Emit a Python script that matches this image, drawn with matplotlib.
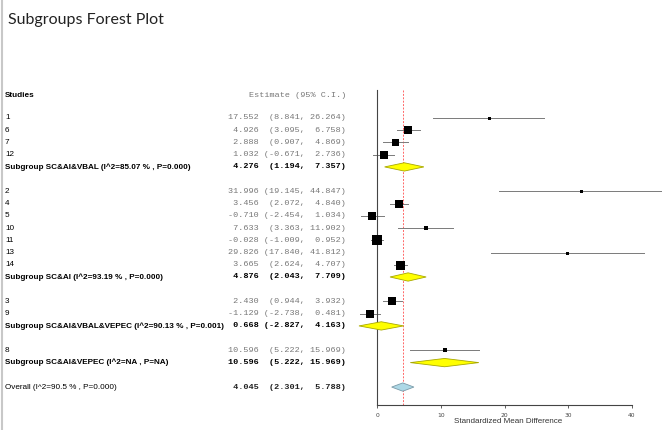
import matplotlib
matplotlib.use("Agg")
import matplotlib.pyplot as plt
from matplotlib.patches import Polygon
from matplotlib.lines import Line2D
import matplotlib.transforms as mtransforms

# study level data, one list per subgroup
group_names = ["SC&AI&VBAL", "SC&AI", "SC&AI&VBAL&VEPEC", "SC&AI&VEPEC"]
study_ids = [["1", "6", "7", "12"],
             ["2", "4", "5", "10", "11", "13", "14"],
             ["3", "9"],
             ["8"]]
study_est = [[17.552, 4.926, 2.888, 1.032],
             [31.996, 3.456, -0.710, 7.633, -0.028, 29.826, 3.665],
             [2.430, -1.129],
             [10.596]]
study_lo = [[8.841, 3.095, 0.907, -0.671],
            [19.145, 2.072, -2.454, 3.363, -1.009, 17.840, 2.624],
            [0.944, -2.738],
            [5.222]]
study_hi = [[26.264, 6.758, 4.869, 2.736],
            [44.847, 4.840, 1.034, 11.902, 0.952, 41.812, 4.707],
            [3.932, 0.481],
            [15.969]]
# relative weights (box size in px)
study_wt = [[3, 8, 7, 7.5],
            [3, 8, 7.5, 5, 9.5, 3, 9],
            [8, 8],
            [4.5]]

# subgroup pooled results
group_i2 = ["85.07 %", "93.19 %", "90.13 %", "NA"]
group_p = ["0.000", "0.000", "0.001", "NA"]
group_est = [4.276, 4.876, 0.668, 10.596]
group_lo = [1.194, 2.043, -2.827, 5.222]
group_hi = [7.357, 7.709, 4.163, 15.969]

# overall
overall_i2 = "90.5 %"
overall_p = "0.000"
overall_est = 4.045
overall_lo = 2.301
overall_hi = 5.788

xticks = [0, 10, 20, 30, 40]

W, H = 662, 430
fig = plt.figure(figsize=(W / 100, H / 100), dpi=100)
fig.patch.set_facecolor("white")

# pixel helpers
row0_px, row_step = 118, 12.23
top_px, bot_px = 90, 405
left_px = 355
ax = fig.add_axes([left_px / W, 1 - bot_px / H, 1 - left_px / W, (bot_px - top_px) / H])
x0_px, unit_px = 377, 6.375
ax.set_xlim((left_px - x0_px) / unit_px, (W - x0_px) / unit_px)
ax.set_ylim((bot_px - row0_px) / row_step, (top_px - row0_px) / row_step)

for s in ["top", "right"]:
    ax.spines[s].set_visible(False)
ax.spines["left"].set_position(("data", 0))
ax.spines["left"].set_linewidth(0.8)
ax.spines["left"].set_color("#444444")
ax.spines["bottom"].set_bounds(0, 40)
ax.spines["bottom"].set_linewidth(0.8)
ax.spines["bottom"].set_color("#444444")
ax.set_yticks([])
ax.set_xticks(xticks)
ax.tick_params(axis="x", length=2.5, width=0.6, labelsize=4.3, pad=3, colors="#444444")
ax.set_xlabel("Standardized Mean Difference", fontsize=5.8, color="#333333",
              family="Liberation Sans", labelpad=0.5)

tr = mtransforms.blended_transform_factory(fig.transFigure, ax.transData)
label_x = 5 / W
est_x = 346 / W

lab_font = dict(family="Liberation Sans", fontsize=5.9)
mono_font = dict(family="Liberation Mono", fontsize=6.1)


def fmt(e, l, h):
    return f"{e:6.3f} {('(' + format(l, '.3f') + ','):>8} {h:6.3f})"


def diamond(e, l, h, y, face, edge):
    d = 0.34
    ax.add_patch(Polygon([(l, y), (e, y - d), (h, y), (e, y + d)], closed=True,
                         facecolor=face, edgecolor=edge, lw=0.6, zorder=3))


# header
hy = -1.8
ax.text(label_x, hy, "Studies", transform=tr, va="center", ha="left",
        fontweight="bold", **lab_font)
ax.text(est_x, hy, "Estimate (95% C.I.)", transform=tr, va="center", ha="right",
        color="#777777", **mono_font)

y = 0
for g in range(len(group_names)):
    for sid, e, l, h, w in zip(study_ids[g], study_est[g], study_lo[g],
                               study_hi[g], study_wt[g]):
        ax.plot([l, h], [y, y], color="#7a7a7a", lw=0.7, zorder=2)
        ax.plot(e, y, marker="s", color="black", ms=w * 0.72, mew=0, zorder=3)
        ax.text(label_x, y, sid, transform=tr, va="center", ha="left", **lab_font)
        ax.text(est_x, y, fmt(e, l, h), transform=tr, va="center", ha="right",
                color="#777777", **mono_font)
        y += 1
    diamond(group_est[g], group_lo[g], group_hi[g], y, "#ffff00", "#a8a800")
    ax.text(label_x, y, f"Subgroup {group_names[g]} (I^2={group_i2[g]} , P={group_p[g]})",
            transform=tr, va="center", ha="left", fontweight="bold", **lab_font)
    ax.text(est_x, y, fmt(group_est[g], group_lo[g], group_hi[g]), transform=tr,
            va="center", ha="right", fontweight="bold", color="black", **mono_font)
    y += 2

diamond(overall_est, overall_lo, overall_hi, y, "#add8e6", "#7a9aa8")
ax.text(label_x, y, f"Overall (I^2={overall_i2} , P={overall_p})", transform=tr,
        va="center", ha="left", **lab_font)
ax.text(est_x, y, fmt(overall_est, overall_lo, overall_hi), transform=tr,
        va="center", ha="right", fontweight="bold", color="#222222", **mono_font)

# reference line at overall estimate
ax.axvline(overall_est, color="#ff6666", lw=0.7, ls=(0, (2, 1.5)), zorder=1)

fig.text(8 / W, 1 - 20 / H, "Subgroups Forest Plot", family="Lato", fontsize=11.5,
         va="center", ha="left", color="#222222")
fig.add_artist(Line2D([2 / W, 2 / W], [0, 1], transform=fig.transFigure,
                      color="#c8c8c8", lw=1.5))

fig.savefig("out.png", dpi=100, facecolor="white")
